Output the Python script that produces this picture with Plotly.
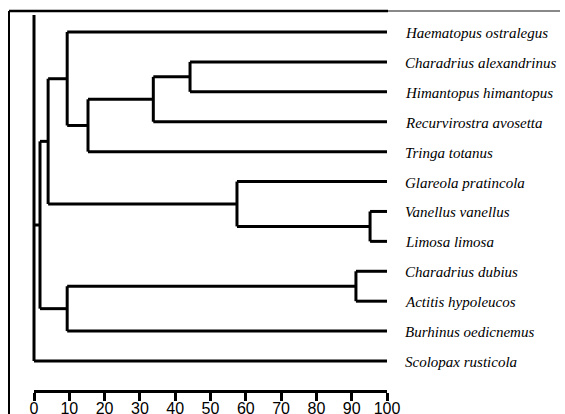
import plotly.graph_objects as go

# ---- data ----
leaves = [
    "Haematopus ostralegus", "Charadrius alexandrinus", "Himantopus himantopus",
    "Recurvirostra avosetta", "Tringa totanus", "Glareola pratincola",
    "Vanellus vanellus", "Limosa limosa", "Charadrius dubius",
    "Actitis hypoleucos", "Burhinus oedicnemus", "Scolopax rusticola",
]
# merges (scipy-style: leaves 0..n-1, cluster n+k created by merge k)
merge_a = [1, 12, 13, 0, 6, 5, 15, 8, 10, 18, 21]
merge_b = [2, 3, 4, 14, 7, 16, 17, 9, 19, 20, 11]
merge_sim = [44.2, 33.8, 15.3, 9.4, 95.2, 57.5, 4.0, 91.2, 9.4, 1.7, 0.0]
leaf_sim = 100.0
tick_vals = [0, 10, 20, 30, 40, 50, 60, 70, 80, 90, 100]

# ---- layout geometry (styling) ----
W, H = 565, 414
X0_PX, X100_PX = 34, 387
BOTTOM_M = 24
LEAF0_PX, LEAFN_PX = 32, 361
ROOT_TOP_PX = 15

n = len(leaves)
sc = (X100_PX - X0_PX) / 100.0
x_range = [-X0_PX / sc, (W - X0_PX) / sc]
plot_h = H - BOTTOM_M
lsc = (LEAFN_PX - LEAF0_PX) / (n - 1)
y_range = [(plot_h - LEAF0_PX) / lsc, -LEAF0_PX / lsc]

# compute node positions
ypos = {i: float(i) for i in range(n)}
hgt = {i: leaf_sim for i in range(n)}
xs, ys = [], []
for k, (a, b, s) in enumerate(zip(merge_a, merge_b, merge_sim)):
    node = n + k
    ya, yb = ypos[a], ypos[b]
    ytop = ya
    if k == len(merge_sim) - 1:
        ytop = min(ya, (ROOT_TOP_PX - LEAF0_PX) / lsc)
    xs += [hgt[a], s, None, s, s, None, s, hgt[b], None]
    ys += [ya, ya, None, ytop, yb, None, yb, yb, None]
    ypos[node] = (ya + yb) / 2
    hgt[node] = s

fig = go.Figure()
fig.add_trace(go.Scatter(x=xs, y=ys, mode="lines",
                         line=dict(color="black", width=3),
                         hoverinfo="skip", showlegend=False, cliponaxis=False))
# invisible trace for scale axis
fig.add_trace(go.Scatter(x=[tick_vals[0], tick_vals[-1]], y=[None, None],
                         xaxis="x2", yaxis="y", mode="lines",
                         showlegend=False, hoverinfo="skip"))

for i, name in enumerate(leaves):
    fig.add_annotation(x=leaf_sim, y=i, text="<i>" + name + "</i>",
                       xanchor="left", yanchor="middle", xshift=16, yshift=-1,
                       showarrow=False,
                       font=dict(family="Liberation Serif", size=15, color="black"))

# frame lines (decoration)
fig.add_shape(type="line", xref="paper", yref="paper",
              x0=9 / W, x1=9 / W, y0=-BOTTOM_M / plot_h, y1=(plot_h - 11) / plot_h,
              line=dict(color="black", width=2))
fig.add_shape(type="line", xref="paper", yref="paper",
              x0=9 / W, x1=388 / W, y0=(plot_h - 11) / plot_h, y1=(plot_h - 11) / plot_h,
              line=dict(color="black", width=2.5))
fig.add_shape(type="line", xref="paper", yref="paper",
              x0=388 / W, x1=560 / W, y0=(plot_h - 11) / plot_h, y1=(plot_h - 11) / plot_h,
              line=dict(color="#888888", width=2))

fig.update_layout(
    width=W, height=H, autosize=False,
    margin=dict(l=0, r=0, t=0, b=BOTTOM_M, pad=0),
    paper_bgcolor="white", plot_bgcolor="rgba(0,0,0,0)",
    xaxis=dict(range=x_range, visible=False, domain=[0, 1], fixedrange=True),
    xaxis2=dict(range=[0, 100], domain=[X0_PX / W, X100_PX / W],
                anchor="y", side="bottom",
                showline=True, linecolor="black", linewidth=3,
                ticks="outside", ticklen=8, tickwidth=3, tickcolor="black",
                tickvals=tick_vals, showgrid=False, zeroline=False,
                ticklabelstandoff=-6, fixedrange=True, automargin=False,
                tickfont=dict(family="Liberation Sans", size=16, color="black")),
    yaxis=dict(range=y_range, visible=False, domain=[0, 1], fixedrange=True,
               automargin=False),
)

post = (
    "var de=document.documentElement;de.style.overflow='hidden';"
    "document.body.style.margin='0px';document.body.style.overflow='hidden';"
    "var gd=document.getElementById('{plot_id}');"
    "var p=gd.parentElement;if(p){p.style.position='fixed';p.style.left='0px';"
    "p.style.top='0px';p.style.overflow='hidden';}"
)
fig.write_html("out.html",
               config={"displayModeBar": False, "responsive": False},
               post_script=post)
